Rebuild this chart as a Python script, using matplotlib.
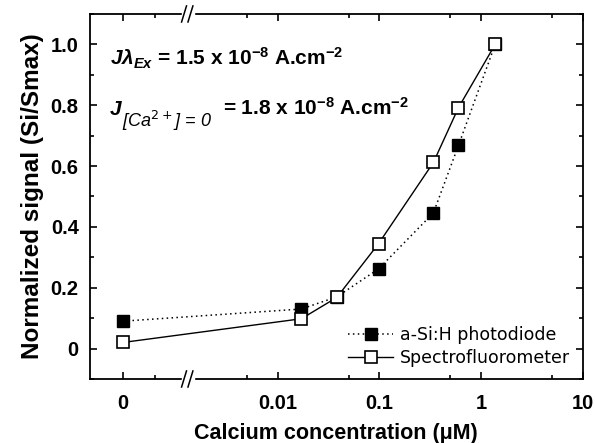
import matplotlib
matplotlib.use("Agg")
import matplotlib.pyplot as plt
import numpy as np
from matplotlib.ticker import FixedLocator, FixedFormatter
from matplotlib.lines import Line2D

plt.rcParams["font.family"] = "Liberation Sans"
plt.rcParams["mathtext.fontset"] = "custom"
plt.rcParams["mathtext.rm"] = "Liberation Sans:bold"
plt.rcParams["mathtext.it"] = "Liberation Sans:italic:bold"
plt.rcParams["mathtext.bf"] = "Liberation Sans:bold"

# data
conc = [0, 0.017, 0.038, 0.098, 0.34, 0.6, 1.38]
photodiode = [0.09, 0.13, 0.17, 0.262, 0.446, 0.668, 1.0]
spectro = [0.02, 0.098, 0.168, 0.345, 0.612, 0.792, 1.0]
x_major = [0, 0.01, 0.1, 1, 10]
x_major_labels = ["0", "0.01", "0.1", "1", "10"]
y_major = [0, 0.2, 0.4, 0.6, 0.8, 1.0]
y_major_labels = ["0", "0.2", "0.4", "0.6", "0.8", "1.0"]

# broken axis: linear around 0, log from the break on (units of decades)
U0 = -3.529
UB = -2.880
XB = 10 ** UB
S = (UB - U0) / XB


def fwd(x):
    x = np.asarray(x, dtype=float)
    safe = np.where(x > XB, x, XB)
    return np.where(x > XB, np.log10(safe), U0 + x * S)


def inv(u):
    u = np.asarray(u, dtype=float)
    return np.where(u > UB, 10 ** np.clip(u, -50, 50), (u - U0) / S)


fig = plt.figure(figsize=(5.95, 4.43), dpi=100)
ax = fig.add_axes([0.151, 0.1445, 0.828, 0.824])
ax.set_xscale("function", functions=(fwd, inv))

ax.plot(conc, photodiode, linestyle=(0, (1, 2.2)), color="black", lw=1.1,
        marker="s", markersize=8.5, markerfacecolor="black",
        markeredgecolor="black", zorder=3)
ax.plot(conc, spectro, linestyle="-", color="black", lw=1.0,
        marker="s", markersize=8.5, markerfacecolor="white",
        markeredgecolor="black", markeredgewidth=1.2, zorder=4)

ax.set_xlim(inv(-3.853), 10)
ax.set_ylim(-0.1, 1.1)

ax.xaxis.set_major_locator(FixedLocator(x_major))
ax.xaxis.set_major_formatter(FixedFormatter(x_major_labels))
ax.xaxis.set_minor_locator(FixedLocator([float(inv(-3.214)), 0.005, 0.05, 0.5, 5]))
ax.yaxis.set_major_locator(FixedLocator(y_major))
ax.yaxis.set_major_formatter(FixedFormatter(y_major_labels))
ax.yaxis.set_minor_locator(FixedLocator([-0.1, 0.1, 0.3, 0.5, 0.7, 0.9, 1.1]))

ax.tick_params(which="both", direction="in", top=True, right=True, width=1.2)
ax.tick_params(which="major", length=5, labelsize=14.5)
ax.tick_params(axis="x", which="major", pad=11)
ax.tick_params(axis="y", which="major", pad=8)
ax.tick_params(which="minor", length=3)
for lab in ax.get_xticklabels() + ax.get_yticklabels():
    lab.set_fontweight("bold")
for sp in ax.spines.values():
    sp.set_linewidth(1.3)

ax.set_xlabel("Calcium concentration (\u03bcM)", fontsize=15.5, fontweight="bold",
              labelpad=7)
ax.set_ylabel("Normalized signal (Si/Smax)", fontsize=17.5, fontweight="bold",
              labelpad=5)

# break marks
bx = (188 - 90) / 492
for yb in (0.0, 1.0):
    ax.add_patch(plt.Rectangle((bx - 0.012, yb - 0.01), 0.024, 0.02,
                               transform=ax.transAxes, color="white",
                               clip_on=False, zorder=5))
    for dx in (-0.009, 0.004):
        ax.add_line(Line2D([bx + dx - 0.004, bx + dx + 0.006],
                           [yb - 0.022, yb + 0.022], transform=ax.transAxes,
                           color="black", lw=1.1, clip_on=False, zorder=6))

# current density notes
ax.text(0.041, 0.860,
        r"$J\lambda_{Ex}$ = 1.5 x 10$^{-8}$ A.cm$^{-2}$",
        transform=ax.transAxes, fontsize=15, fontweight="bold", va="baseline")
ax.text(0.041, 0.723, "J", transform=ax.transAxes, fontsize=15,
        fontweight="bold", style="italic", va="baseline")
ax.text(0.065, 0.690, r"[Ca$^{2+}$] = 0", transform=ax.transAxes,
        fontsize=13, style="italic", va="baseline",
        math_fontfamily="dejavusans")
ax.text(0.270, 0.723, r"= 1.8 x 10$^{-8}$ A.cm$^{-2}$",
        transform=ax.transAxes, fontsize=15, fontweight="bold", va="baseline")

h1 = Line2D([], [], linestyle=(0, (1, 2.2)), color="black", lw=1.1, marker="s",
            markersize=8.5, markerfacecolor="black")
h2 = Line2D([], [], linestyle="-", color="black", lw=1.0, marker="s",
            markersize=8.5, markerfacecolor="white", markeredgewidth=1.2)
ax.legend([h1, h2], ["a-Si:H photodiode", "Spectrofluorometer"],
          loc="lower right", frameon=False,
          prop={"family": "DejaVu Sans", "size": 12.5},
          handlelength=2.6, handletextpad=0.4, borderaxespad=0.4,
          labelspacing=0.3, borderpad=0.3)

fig.savefig("out.png", dpi=100)
